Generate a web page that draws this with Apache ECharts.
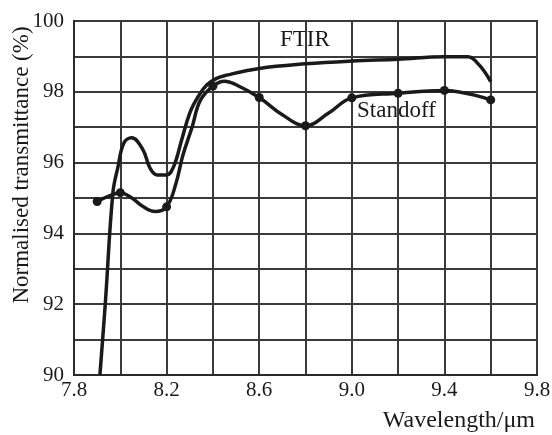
<!DOCTYPE html>
<html>
<head>
<meta charset="utf-8">
<script src="https://cdn.jsdelivr.net/npm/echarts@6/dist/echarts.min.js"></script>
<style>html,body{margin:0;padding:0;background:#fff}#c{width:552px;height:435px}</style>
</head>
<body>
<div id="c"></div>
<script>
// Measured Standoff points (with markers)
var standoffX = [7.9, 8.0, 8.2, 8.4, 8.6, 8.8, 9.0, 9.2, 9.4, 9.6];
var standoffY = [94.9, 95.15, 94.75, 98.16, 97.84, 97.04, 97.83, 97.96, 98.04, 97.77];
// Standoff curve shape points read between markers (no markers)
var standoffCurveX = [7.95, 8.05, 8.1, 8.15, 8.24, 8.27, 8.31, 8.345, 8.45, 8.5, 8.7, 8.9];
var standoffCurveY = [95.05, 95.0, 94.75, 94.62, 95.4, 96.2, 97.0, 97.75, 98.3, 98.2, 97.35, 97.4];
// FTIR curve
var ftirX = [7.912, 7.935, 7.968, 7.99, 8.015, 8.049, 8.098, 8.128, 8.16, 8.2, 8.23, 8.265, 8.30, 8.336, 8.373, 8.416, 8.459, 8.6, 8.8, 9.0, 9.2, 9.4, 9.5, 9.55, 9.6];
var ftirY = [90.0, 92.0, 95.15, 95.88, 96.55, 96.70, 96.36, 95.85, 95.65, 95.65, 95.88, 96.64, 97.4, 97.86, 98.19, 98.38, 98.47, 98.66, 98.79, 98.87, 98.92, 98.99, 98.99, 98.76, 98.29];
var xTickLabels = ['7.8', '8.2', '8.6', '9.0', '9.4', '9.8'];
var yTickLabels = ['90', '92', '94', '96', '98', '100'];

var FONT = 'Liberation Serif';
var INK = '#1a1a1a';

var standoffData = [];
standoffX.forEach(function (x, i) { standoffData.push({ value: [x, standoffY[i]], symbol: 'circle' }); });
standoffCurveX.forEach(function (x, i) { standoffData.push({ value: [x, standoffCurveY[i]], symbol: 'none' }); });
standoffData.sort(function (a, b) { return a.value[0] - b.value[0]; });

var ftirData = ftirX.map(function (x, i) { return [x, ftirY[i]]; });

var chart = echarts.init(document.getElementById('c'));
chart.setOption({
  animation: false,
  backgroundColor: '#fff',
  grid: { left: 74, right: 15, top: 21, bottom: 60, show: true, borderColor: '#2a2a2a', borderWidth: 2, containLabel: false, outerBoundsMode: 'none' },
  xAxis: {
    type: 'value', min: 7.8, max: 9.8, interval: 0.2,
    name: 'Wavelength/\u03bcm', nameLocation: 'end',
    nameTextStyle: { fontFamily: FONT, fontSize: 24, color: INK, align: 'right', verticalAlign: 'top', padding: [34, 0, 0, 0] },
    nameGap: -2, nameMoveOverlap: false,
    axisLine: { show: true, lineStyle: { color: '#2a2a2a', width: 2 } },
    axisTick: { show: false },
    splitLine: { show: true, lineStyle: { color: '#3a3a3a', width: 2 } },
    axisLabel: {
      fontFamily: FONT, fontSize: 21, color: INK, margin: 5,
      formatter: function (v) {
        var k = Math.round((v - 7.8) / 0.2);
        return k % 2 === 0 ? xTickLabels[k / 2] : '';
      }
    }
  },
  yAxis: {
    type: 'value', min: 90, max: 100, interval: 1,
    name: 'Normalised transmittance (%)', nameLocation: 'middle', nameGap: 41, nameMoveOverlap: false,
    nameTextStyle: { fontFamily: FONT, fontSize: 23, color: INK, padding: [0, 0, 0, 66] },
    axisLine: { show: true, lineStyle: { color: '#2a2a2a', width: 2 } },
    axisTick: { show: false },
    splitLine: { show: true, lineStyle: { color: '#3a3a3a', width: 2 } },
    axisLabel: {
      fontFamily: FONT, fontSize: 21, color: INK, margin: 10,
      formatter: function (v) {
        var k = Math.round(v - 90);
        return k % 2 === 0 ? yTickLabels[k / 2] : '';
      }
    }
  },
  series: [
    {
      name: 'FTIR', type: 'line', data: ftirData, smooth: 0.4, showSymbol: false,
      lineStyle: { color: INK, width: 3.5 }
    },
    {
      name: 'Standoff', type: 'line', data: standoffData, smooth: 0.4,
      symbolSize: 9, itemStyle: { color: INK },
      lineStyle: { color: INK, width: 3.5 }
    }
  ],
  graphic: [
    { type: 'text', left: 280, top: 28, style: { text: 'FTIR', font: '23px "Liberation Serif"', fill: INK } },
    { type: 'text', left: 357, top: 99, style: { text: 'Standoff', font: '23px "Liberation Serif"', fill: INK } }
  ]
});
</script>
</body>
</html>
